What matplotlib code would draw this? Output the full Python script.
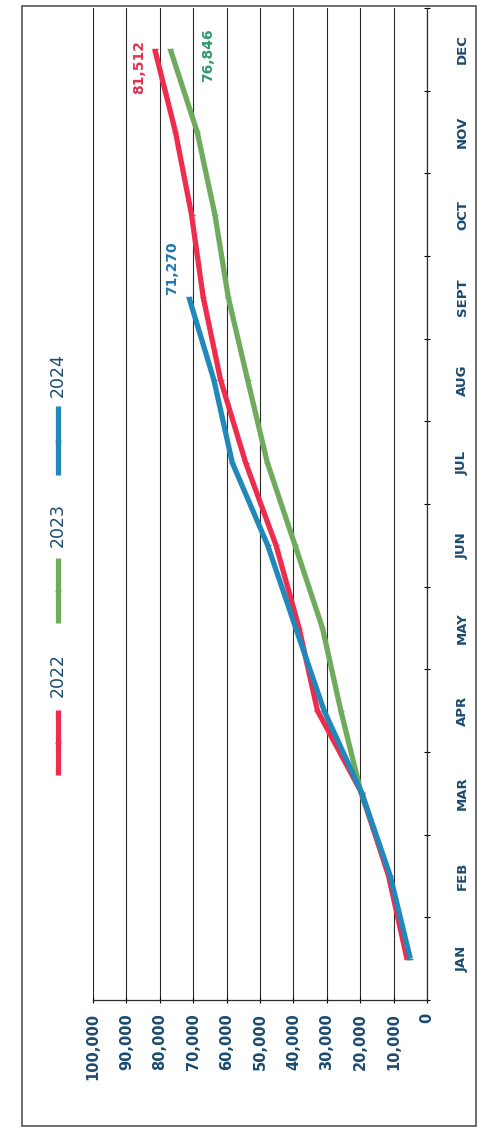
import matplotlib
matplotlib.use("Agg")
import matplotlib.pyplot as plt
from matplotlib.lines import Line2D
from matplotlib.patches import Rectangle
from matplotlib.ticker import FuncFormatter

months = ["JAN", "FEB", "MAR", "APR", "MAY", "JUN", "JUL", "AUG", "SEPT", "OCT", "NOV", "DEC"]
years = ["2022", "2023", "2024"]

# cumulative totals per month
totals_2022 = [6000, 11500, 19500, 32800, 38300, 45200, 54300, 61800, 67000, 70500, 75300, 81512]
totals_2023 = [5800, 11300, 19700, 25800, 31300, 39500, 47800, 53700, 59500, 63500, 68800, 76846]
totals_2024 = [5000, 11000, 19500, 30800, 39300, 47700, 58300, 63800, 71270]

value_ticks = list(range(0, 100001, 10000))

colors = {"2022": "#ee2d4e", "2023": "#6fab5c", "2024": "#2088bb"}
label_colors = {"2022": "#e0304e", "2023": "#2f9a68", "2024": "#1f77ad"}
text_color = "#1b4a70"

W, H = 483, 1130
fig = plt.figure(figsize=(W / 100, H / 100), dpi=100)


def fx(px):
    return px / W


def fy(py):
    return 1 - py / H


# chart is laid out sideways: value runs right-to-left, months bottom-to-top
ax = fig.add_axes([fx(93), fy(1000), fx(427) - fx(93), fy(8) - fy(1000)])

series = {"2022": totals_2022, "2023": totals_2023, "2024": totals_2024}
for yr in ["2023", "2022", "2024"]:
    vals = series[yr]
    z = {"2022": 3, "2023": 2, "2024": 4}[yr]
    ax.plot(vals, range(len(vals)), color=colors[yr], lw=3.8,
            solid_capstyle="butt", marker="_", ms=5, mew=1.0, zorder=z)

ax.set_xlim(100000, 0)
ax.set_ylim(-0.5, 11.5)

ax.set_xticks(value_ticks)
ax.xaxis.set_major_formatter(FuncFormatter(lambda v, p: f"{int(v):,}"))
ax.grid(axis="x", color="#2b2b2b", lw=0.8, zorder=1)
ax.tick_params(axis="x", direction="inout", length=5, width=0.8, pad=7,
               labelsize=10.5, labelcolor=text_color, labelrotation=90)
for t in ax.get_xticklabels():
    t.set_fontweight("bold")

ax.set_yticks(range(12))
ax.set_yticklabels(months)
ax.set_yticks([i - 0.5 for i in range(13)], minor=True)
ax.yaxis.tick_right()
ax.tick_params(axis="y", which="major", length=0, pad=21, labelsize=9.5,
               labelcolor=text_color)
ax.tick_params(axis="y", which="minor", direction="inout", length=4,
               width=0.8, right=True, left=False)
for t in ax.get_yticklabels():
    t.set_fontweight("bold")
    t.set_rotation(90)
    t.set_va("center")

for s in ["top", "left"]:
    ax.spines[s].set_visible(False)
ax.spines["right"].set_color("#2b2b2b")
ax.spines["bottom"].set_color("#2b2b2b")
ax.spines["right"].set_linewidth(0.9)
ax.spines["bottom"].set_linewidth(0.9)

# end-point value labels
end_labels = [
    ("2022", 11, totals_2022[11], (-11, -13)),
    ("2023", 11, totals_2023[11], (27, -4)),
    ("2024", 8, totals_2024[8], (-12, 21)),
]
for yr, mi, v, off in end_labels:
    ax.annotate(f"{v:,}", xy=(v, mi), xytext=off, textcoords="offset points",
                rotation=90, ha="center", va="center", fontsize=10,
                fontweight="bold", color=label_colors[yr], zorder=6)

# legend, drawn sideways in the left margin
legend_items = [("2022", 775, 710, 675), ("2023", 623, 558, 525), ("2024", 475, 406, 375)]
for yr, y0, y1, ty in legend_items:
    xm = fx(58)
    fig.add_artist(Line2D([xm, xm], [fy(y0), fy(y1)], color=colors[yr], lw=3.8,
                          solid_capstyle="butt"))
    fig.add_artist(Line2D([xm], [fy((y0 + y1) / 2)], color=colors[yr], marker="_",
                          ms=5, mew=1.0))
    fig.text(fx(58), fy(ty), yr, rotation=90, ha="center", va="center",
             fontsize=12.5, color=text_color)

fig.add_artist(Rectangle((fx(22), fy(1126)), fx(476) - fx(22), fy(6) - fy(1126),
                         fill=False, edgecolor="#555555", lw=1.2))

fig.savefig("out.png", dpi=100)
